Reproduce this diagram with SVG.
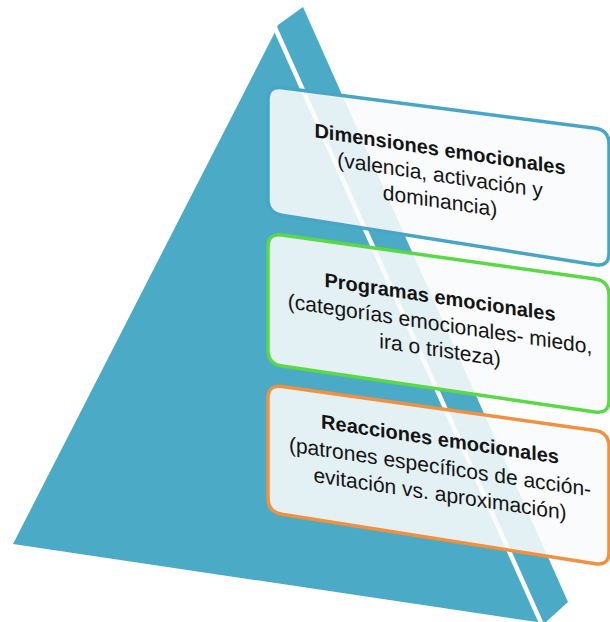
<svg xmlns="http://www.w3.org/2000/svg" width="610" height="622" viewBox="0 0 610 622">
<style>
.box{fill:#f8fbfc;fill-opacity:0.88;stroke-width:3.5;stroke-linejoin:round}
.t{font-family:"Liberation Sans",Arial,sans-serif;fill:#141414;text-anchor:middle}
.h{font-size:20px;font-weight:bold}
.b{font-size:21px}
</style>
<rect width="610" height="622" fill="#ffffff"/>
<g id="pyramid">
<polygon points="274,34 278,25 303,7 568,602 546,622 537,622 13,544" fill="#4babc6"/>
<line x1="272" y1="21" x2="543" y2="627" stroke="#ffffff" stroke-width="4.5"/>
</g>
<g id="connectors"></g>
<g id="node-dimensiones">
<path class="box" stroke="#48a6c4" d="M268,100 Q268,86 281.9,87.8 L595.1,128.2 Q609,130 609,144 L609,253 Q609,267 595.2,264.8 L281.8,215.2 Q268,213 268,199 Z"/>
<g transform="translate(440,156) skewY(8.5)">
<text class="t h" x="0" y="0">Dimensiones emocionales</text>
<text class="t b" x="0" y="26">(valencia, activación y</text>
<text class="t b" x="0" y="52">dominancia)</text>
</g>
</g>
<g id="node-programas">
<path class="box" stroke="#5ad846" d="M268,247 Q268,233 281.9,235 L595.1,279 Q609,281 609,295 L609,400 Q609,414 595.2,412 L281.9,366 Q268,364 268,350 Z"/>
<g transform="translate(440,304) skewY(8.5)">
<text class="t h" x="0" y="0">Programas emocionales</text>
<text class="t b" x="0" y="27">(categorías emocionales- miedo,</text>
<text class="t b" x="0" y="53">ira o tristeza)</text>
</g>
</g>
<g id="node-reacciones">
<path class="box" stroke="#f0913f" d="M268,398.5 Q268,384.5 281.9,386.5 L595.1,430.5 Q609,432.5 609,446.5 L609,552 Q609,566 595.2,563.8 L281.8,514.2 Q268,512 268,498 Z"/>
<g transform="translate(440,446) skewY(8.5)">
<text class="t h" x="0" y="0">Reacciones emocionales</text>
<text class="t b" x="0" y="28">(patrones específicos de acción-</text>
<text class="t b" x="0" y="55">evitación vs. aproximación)</text>
</g>
</g>
</svg>
